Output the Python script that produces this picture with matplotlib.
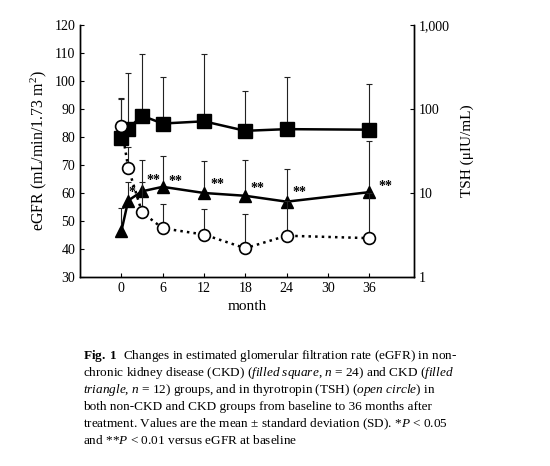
import numpy as np
import matplotlib
matplotlib.use('Agg')
import matplotlib.pyplot as plt

plt.rcParams['font.family'] = 'Liberation Serif'
plt.rcParams['mathtext.fontset'] = 'custom'
plt.rcParams['mathtext.rm'] = 'Liberation Serif'
plt.rcParams['mathtext.it'] = 'Liberation Serif:italic'
plt.rcParams['mathtext.bf'] = 'Liberation Serif:bold'

month = [0, 1, 3, 6, 12, 18, 24, 36]

# eGFR non-CKD (filled square)
egfr_noncdk = [79.5, 83, 87.6, 84.8, 85.6, 82.2, 82.8, 82.6]
egfr_noncdk_up = [93.9, 103, 109.5, 101.5, 109.5, 96.5, 101.3, 98.9]

# eGFR CKD (filled triangle)
egfr_ckd = [46.3, 57.3, 60.6, 62.2, 60.0, 59.0, 56.9, 60.3]
egfr_ckd_up = [54.5, 64, 71.9, 73.1, 71.3, 71.9, 68.4, 78.6]

# TSH (open circle), log scale
tsh = [62, 20, 5.9, 3.8, 3.2, 2.2, 3.1, 2.9]
tsh_up = [130, 35, 13.5, 7.3, 6.5, 5.6, 8.0, 10.0]

# significance marks
star_x = [1.6, 4.6, 7.8, 13.9, 19.8, 25.9, 38.4]
star_y = [60.3, 64.4, 64.2, 63.0, 61.6, 60.0, 62.2]
star_txt = ['*', '**', '**', '**', '**', '**', '**']

fig = plt.figure(figsize=(5.5, 4.66), dpi=100)
ax = fig.add_axes([0.1455, 0.4056, 0.6072, 0.5408])
ax2 = ax.twinx()

m = np.array(month)
a = np.array(egfr_noncdk)
b = np.array(egfr_ckd)
c = np.array(tsh)

ax.errorbar(m, a, yerr=[np.zeros(len(a)), np.array(egfr_noncdk_up) - a],
            fmt='none', ecolor='#222222', elinewidth=0.8, capsize=2.5, capthick=0.8)
ax.errorbar(m, b, yerr=[np.zeros(len(b)), np.array(egfr_ckd_up) - b],
            fmt='none', ecolor='#222222', elinewidth=0.8, capsize=2.5, capthick=0.8)
ax.plot(m, a, color='black', lw=1.8, marker='s', ms=9.5, zorder=3)
ax.plot(m, b, color='black', lw=1.8, marker='^', ms=8.5, zorder=3)
for x, y, t in zip(star_x, star_y, star_txt):
    ax.text(x, y, t, fontsize=10, ha='center', va='center', fontweight='bold')

ax2.errorbar(m, c, yerr=[np.zeros(len(c)), np.array(tsh_up) - c],
             fmt='none', ecolor='#222222', elinewidth=0.8, capsize=2.5, capthick=0.8)
ax2.plot(m, c, color='black', lw=1.8, ls=':', marker='o', ms=8.5,
         mfc='white', mec='black', mew=1.2, zorder=3)

ax.set_xlim(-6, 42.5)
ax.set_ylim(30, 120)
ax.set_xticks([0, 6, 12, 18, 24, 30, 36])
ax.set_yticks(np.arange(30, 121, 10))
ax2.set_yscale('log')
ax2.set_ylim(1, 1000)
ax2.set_yticks([1, 10, 100, 1000])
ax2.set_yticklabels(['1', '10', '100', '1,000'])
ax2.minorticks_off()

for s in ['top']:
    ax.spines[s].set_visible(False)
    ax2.spines[s].set_visible(False)
for axis in (ax, ax2):
    for sp in axis.spines.values():
        sp.set_linewidth(1.0)
ax.tick_params(direction='in', length=3, labelsize=10)
ax2.tick_params(direction='in', length=3, labelsize=10)

ax.set_xlabel('month', fontsize=11)
ax.set_ylabel('eGFR (mL/min/1.73 m$^2$)', fontsize=11.5)
ax2.set_ylabel('TSH (\u03bcIU/mL)', fontsize=11, labelpad=8)

caption = [
    r'$\mathbf{Fig.\ 1}$  Changes in estimated glomerular filtration rate (eGFR) in non-',
    r'chronic kidney disease (CKD) ($\mathit{filled\ square}$, $\mathit{n}$ = 24) and CKD ($\mathit{filled}$',
    r'$\mathit{triangle}$, $\mathit{n}$ = 12) groups, and in thyrotropin (TSH) ($\mathit{open\ circle}$) in',
    'both non-CKD and CKD groups from baseline to 36 months after',
    r'treatment. Values are the mean $\pm$ standard deviation (SD). *$\mathit{P}$ < 0.05',
    r'and **$\mathit{P}$ < 0.01 versus eGFR at baseline',
]
ys = [356, 373, 390, 407, 424, 441]
for line, y in zip(caption, ys):
    fig.text(83 / 550, 1 - y / 466, line, fontsize=9.5, ha='left', va='center')

fig.savefig('out.png', dpi=100)
